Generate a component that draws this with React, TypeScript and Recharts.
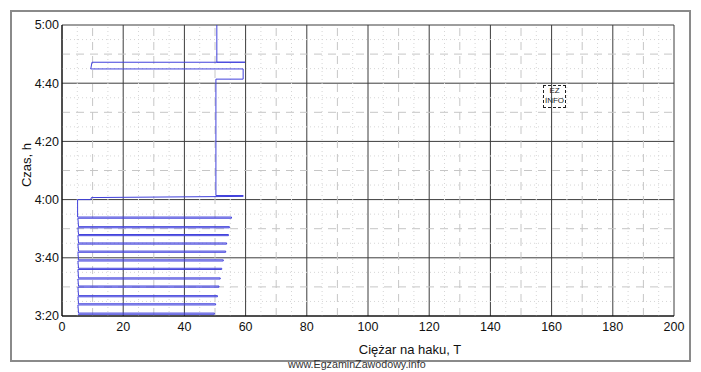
import { LineChart, Line, XAxis, YAxis, CartesianGrid, ReferenceLine } from 'recharts'

// hook weight (T) and time (minutes after midnight), in drawing order
const pathWeight = [
  5.2, 49.8, 49.8, 5.4,
  5.2, 50.2, 50.2, 5.4,
  5.2, 50.8, 50.8, 5.4,
  5.2, 51.3, 51.3, 5.4,
  5.2, 51.7, 51.7, 5.4,
  5.2, 52.2, 52.2, 5.4,
  5.2, 52.7, 52.7, 5.4,
  5.2, 53.5, 53.5, 5.4,
  5.2, 53.8, 53.8, 5.4,
  5.2, 54.4, 54.4, 5.4,
  5.2, 54.7, 54.7, 5.4,
  5.2, 55.4, 55.4, 5.1,
  5.1, 9.4, 9.6, 59.2, 59.2, 50.3,
  50.3, 59.2, 59.2, 9.4, 9.8, 59.8, 50.6, 50.6,
]
const pathTime = [
  200.6, 200.6, 201.0, 201.0,
  203.8, 203.8, 204.2, 204.2,
  206.6, 206.6, 207.0, 207.0,
  209.9, 209.9, 210.3, 210.3,
  212.7, 212.7, 213.1, 213.1,
  216.0, 216.0, 216.4, 216.4,
  218.9, 218.9, 219.3, 219.3,
  221.9, 221.9, 222.3, 222.3,
  224.7, 224.7, 225.1, 225.1,
  227.6, 227.6, 228.0, 228.0,
  230.3, 230.3, 230.7, 230.7,
  233.6, 233.6, 234.0, 234.0,
  240.0, 240.0, 240.7, 241.1, 241.4, 241.4,
  281.4, 281.4, 284.9, 284.9, 287.2, 287.2, 287.2, 300,
]

const xTicks = [0, 20, 40, 60, 80, 100, 120, 140, 160, 180, 200]
const yTicks = [200, 220, 240, 260, 280, 300]

// minor grid: dashed every 10, dotted in between
const xDashed = [10, 30, 50, 70, 90, 110, 130, 150, 170, 190]
const xDotted = [5, 15, 25, 35, 45, 55, 65, 75, 85, 95, 105, 115, 125, 135, 145, 155, 165, 175, 185, 195]
const yDashed = [210, 230, 250, 270, 290]
const yDotted = [205, 215, 225, 235, 245, 255, 265, 275, 285, 295]

const data = pathWeight.map((w, i) => ({ w, t: pathTime[i] }))

const FONT = '"Liberation Sans", Arial, sans-serif'

const fmtTime = (m: number) => `${Math.floor(m / 60)}:${String(m % 60).padStart(2, '0')}`

function YLabel() {
  return (
    <text x={26} y={165} transform="rotate(-90 26 165)" textAnchor="middle" dominantBaseline="central"
      fontSize={13} fontFamily={FONT} fill="#111">
      Czas, h
    </text>
  )
}

export default function App() {
  return (
    <div style={{ position: 'absolute', left: 0, top: 0, width: 701, height: 372, background: '#fff' }}>
      <div style={{ position: 'absolute', left: 10, top: 9.5, width: 677, height: 348, border: '2px solid #8a8a8a' }} />
      <div style={{ position: 'absolute', left: 0, top: 0 }}>
        <LineChart width={701} height={372} data={data} margin={{ top: 25, right: 27, left: 12, bottom: 0 }}>
          {xDotted.map(v => <ReferenceLine key={'xd' + v} x={v} stroke="#d6d6d6" strokeDasharray="1 3" />)}
          {xDashed.map(v => <ReferenceLine key={'xs' + v} x={v} stroke="#c6c6c6" strokeDasharray="8 6" />)}
          {yDotted.map(v => <ReferenceLine key={'yd' + v} y={v} stroke="#d6d6d6" strokeDasharray="1 3" />)}
          {yDashed.map(v => <ReferenceLine key={'ys' + v} y={v} stroke="#c6c6c6" strokeDasharray="8 6" />)}
          <CartesianGrid stroke="#3c3c3c" />
          <XAxis dataKey="w" type="number" domain={[0, 200]} ticks={xTicks} interval={0}
            tickSize={0} tickMargin={6} axisLine={{ stroke: '#000' }} height={56}
            tick={{ fontSize: 12.5, fontFamily: FONT, fill: '#111' }}
            label={{ value: 'Ciężar na haku, T', position: 'insideBottom', offset: 18, dx: 42, fontSize: 13, fontFamily: FONT, fill: '#111' }} />
          <YAxis type="number" domain={[200, 300]} ticks={yTicks} interval={0} tickFormatter={fmtTime}
            tickSize={0} tickMargin={3} axisLine={{ stroke: '#000' }} width={50}
            tick={{ fontSize: 12.5, fontFamily: FONT, fill: '#111' }}
            label={<YLabel />} />
          <Line dataKey="t" stroke="#4040dc" strokeWidth={1} dot={false} isAnimationActive={false} type="linear" />
        </LineChart>
      </div>
      <div style={{ position: 'absolute', left: 543, top: 85, width: 21, height: 21, border: '1px dashed #222',
        fontFamily: FONT, fontSize: 8, lineHeight: '10px', textAlign: 'center', color: '#222' }}>
        EZ<br />INFO
      </div>
      <div style={{ position: 'absolute', left: 288, top: 359, fontFamily: FONT, fontSize: 10.7, lineHeight: 1, color: '#333', whiteSpace: 'nowrap' }}>
        www.EgzaminZawodowy.info
      </div>
    </div>
  )
}
